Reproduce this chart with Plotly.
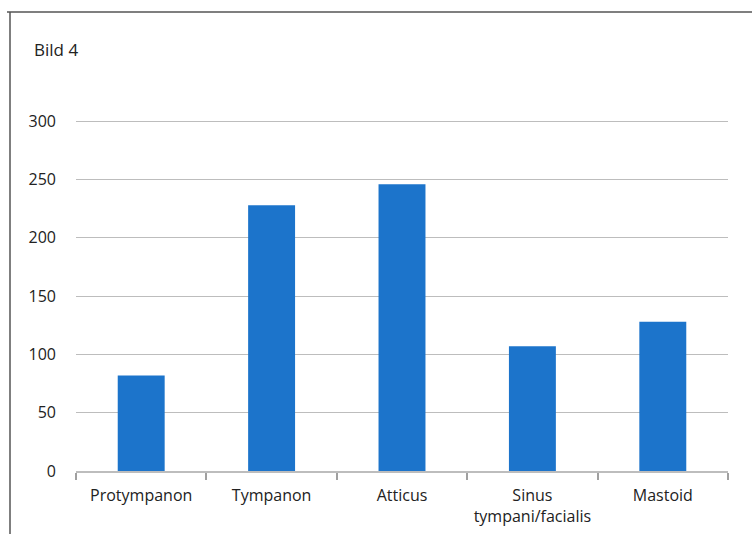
import plotly.graph_objects as go

categories = ["Protympanon", "Tympanon", "Atticus", "Sinus<br>tympani/facialis", "Mastoid"]
values = [82, 228, 246, 107, 128]
y_ticks = [0, 50, 100, 150, 200, 250, 300]
title_text = "Bild 4"

W, H = 752, 534
L, R, T, B = 76, 24, 120, 63
pw, ph = W - L - R, H - T - B

def px_x(x):
    return (x - L) / pw

def px_y(y):
    return (H - B - y) / ph

fig = go.Figure(go.Bar(x=categories, y=values, marker=dict(color="#1c74cb", line=dict(width=0))))

fig.update_layout(
    width=W, height=H,
    margin=dict(l=L, r=R, t=T, b=B, autoexpand=False),
    paper_bgcolor="white", plot_bgcolor="white",
    bargap=0.64,
    showlegend=False,
    font=dict(family="Open Sans, sans-serif", size=15, color="#222222"),
    title=dict(text=title_text, x=34 / W, xanchor="left", xref="container",
               y=1 - 50 / H, yanchor="middle", yref="container",
               font=dict(size=17, color="#222222")),
    xaxis=dict(showgrid=False, showline=True, linecolor="#bdbdbd", linewidth=1.5,
               ticks="outside", tickson="boundaries", ticklen=7, tickcolor="#a0a0a0",
               tickwidth=1.5, ticklabelstandoff=9, tickfont=dict(size=16),
               automargin=False, fixedrange=True),
    yaxis=dict(range=[0, 301], tickvals=y_ticks, showgrid=True, gridcolor="#bdbdbd",
               gridwidth=1.2, zeroline=False, showline=False, ticks="",
               ticklabelstandoff=19, tickfont=dict(size=16),
               automargin=False, fixedrange=True),
    shapes=[
        dict(type="line", xref="paper", yref="paper", x0=px_x(7), x1=px_x(752),
             y0=px_y(12), y1=px_y(12), line=dict(color="#555555", width=1.5)),
        dict(type="line", xref="paper", yref="paper", x0=px_x(10), x1=px_x(10),
             y0=px_y(12), y1=px_y(534), line=dict(color="#555555", width=1.5)),
    ],
)

fig.write_html("out.html", config={"displayModeBar": False},
               post_script="document.body.style.margin='0';")
